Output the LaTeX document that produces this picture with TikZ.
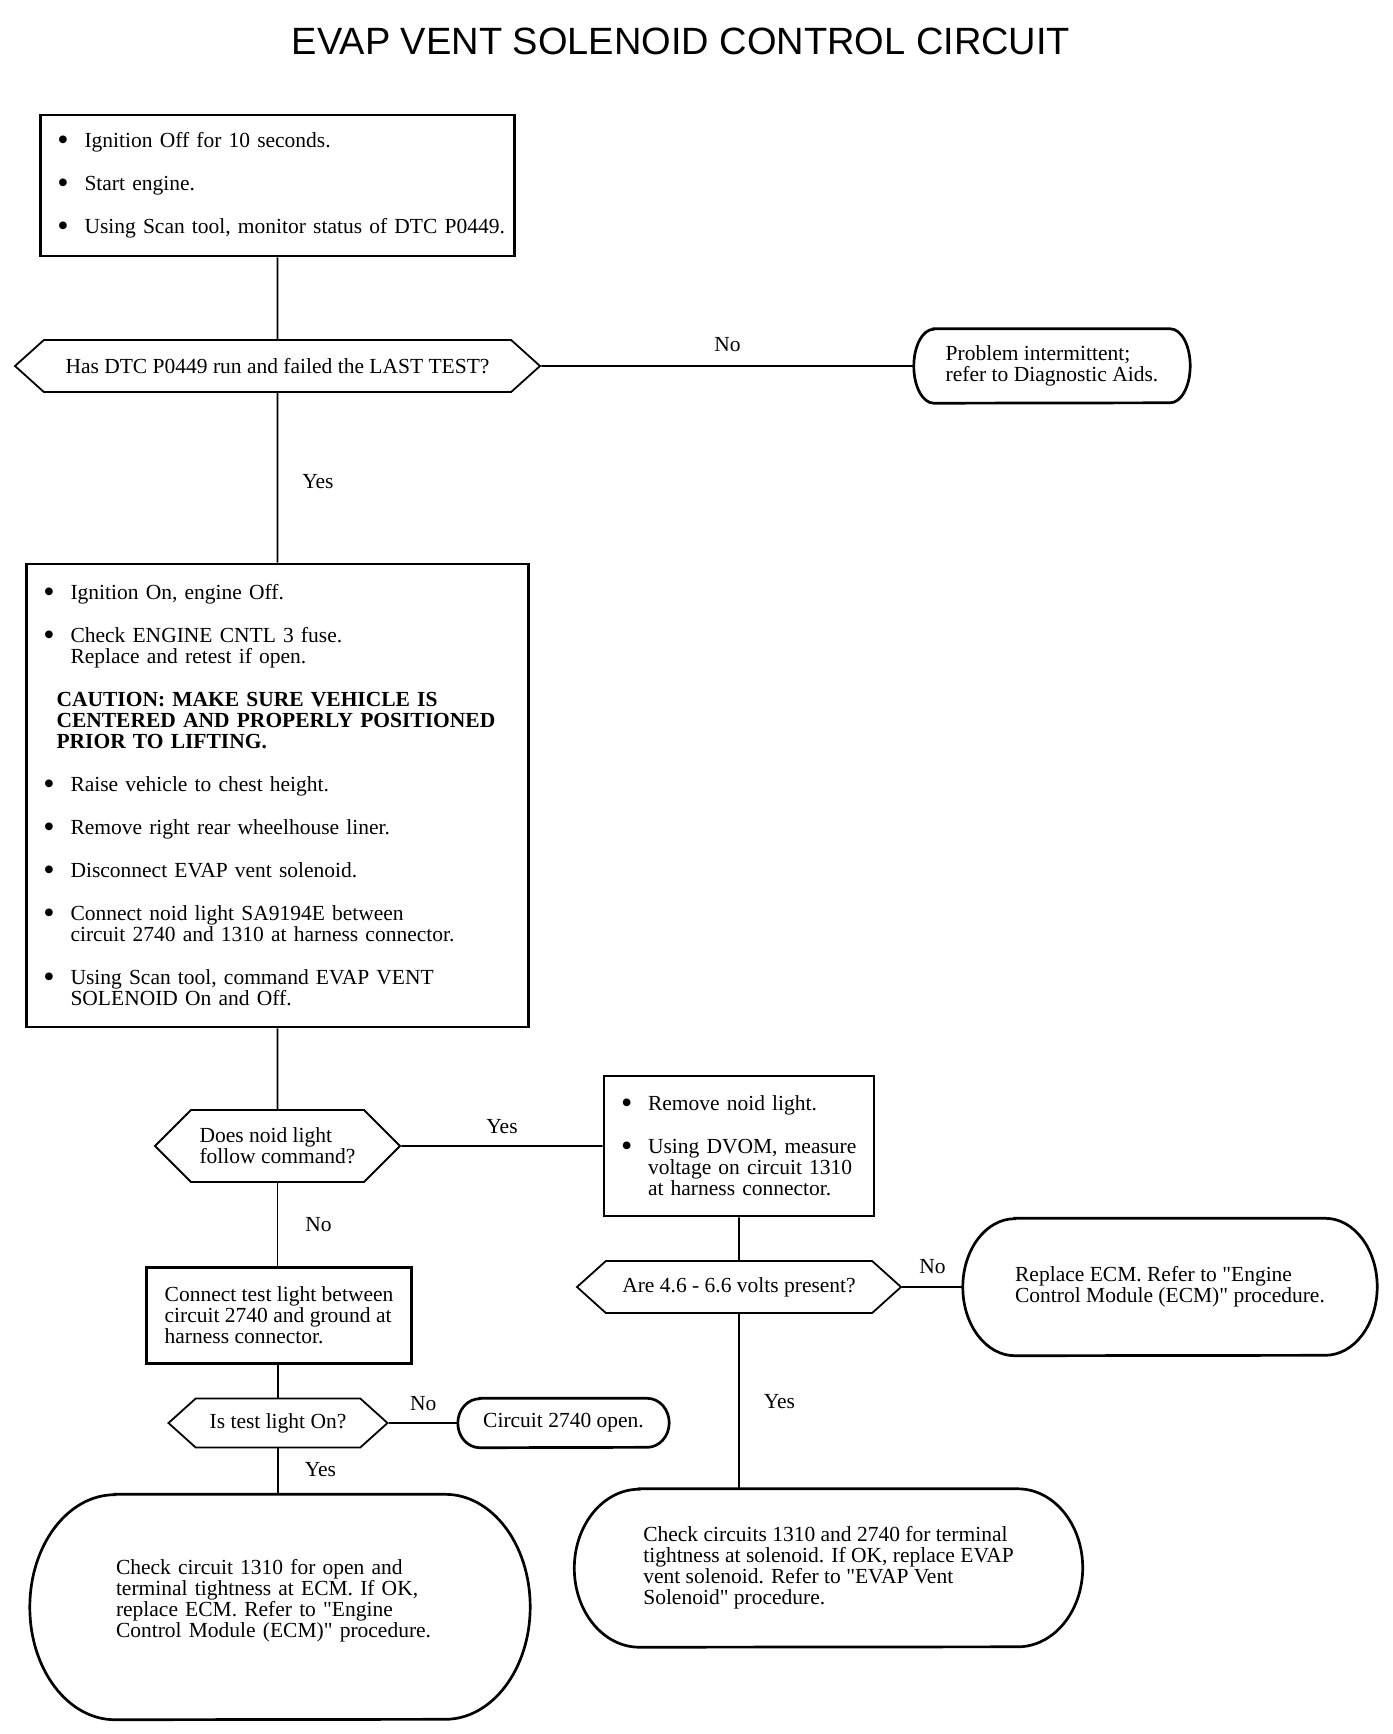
\documentclass[tikz,border=0pt]{standalone}
\usepackage{graphicx}
\usepackage{fontspec}
\setmainfont{Liberation Serif}[Ligatures=TeXOff]
\newfontfamily\headfont{Liberation Sans}
\usetikzlibrary{shapes.symbols}
\hyphenpenalty=10000
\newcommand{\bitem}[1]{\hangindent=44pt\hangafter=1\noindent\makebox[44pt][l]{\hspace{17pt}\raisebox{-2.5pt}{\scalebox{1.5}{\textbullet}}}#1\par}
\newcommand{\capsule}[3]{\draw[capline] ([xshift=#2]#1.north west) -- ([xshift=-#2]#1.north east)
	arc[start angle=90,end angle=-90,x radius=#2,y radius=#3] -- ([xshift=#2]#1.south west)
	arc[start angle=270,end angle=90,x radius=#2,y radius=#3] -- cycle;}

\begin{document}
\begin{tikzpicture}[x=1pt,y=-1pt,
	txt/.style={font=\fontsize{21.5}{21}\selectfont\setlength{\parskip}{22pt}},
	actbox/.style={txt,draw,line width=2.6pt,inner sep=0pt,align=left},
	ask/.style={txt,draw,line width=1.8pt,signal,signal to=west and east,signal pointer angle=84,inner sep=0pt,align=left},
	endbox/.style={txt,inner sep=0pt,align=left},
	capline/.style={line width=2.7pt},
	wire/.style={line width=1.6pt},
	lbl/.style={txt,inner sep=0pt}]
	\useasboundingbox[fill=white] (0,0) rectangle (1392,1734);
	\node[font=\headfont\fontsize{38}{38}\selectfont] (title) at (681,41.5) {EVAP VENT SOLENOID CONTROL CIRCUIT};

	\node[actbox,text width=474pt,minimum height=141pt] (ign) at (277.5,185.5)
		{\bitem{Ignition Off for 10 seconds.}\bitem{Start engine.}\bitem{Using Scan tool, monitor status of DTC P0449.}};
	\node[ask,minimum width=525pt,minimum height=52pt] (ran) at (277.5,366) {Has DTC P0449 run and failed the LAST TEST?};
	\node[endbox,minimum width=276pt,minimum height=74pt] (intm) at (1052,366)
		{Problem intermittent;\\refer to Diagnostic Aids.};
	\capsule{intm}{20pt}{37pt}
	\node[actbox,text width=502pt,minimum height=463pt] (fuse) at (277.5,795.5)
		{\bitem{Ignition On, engine Off.}
		\bitem{Check ENGINE CNTL 3 fuse.\newline Replace and retest if open.}
		{\leftskip=30pt\noindent\textbf{CAUTION: MAKE SURE VEHICLE IS\newline CENTERED AND PROPERLY POSITIONED\newline PRIOR TO LIFTING.}\par}
		\bitem{Raise vehicle to chest height.}
		\bitem{Remove right rear wheelhouse liner.}
		\bitem{Disconnect EVAP vent solenoid.}
		\bitem{Connect noid light SA9194E between\newline circuit 2740 and 1310 at harness connector.}
		\bitem{Using Scan tool, command EVAP VENT\newline SOLENOID On and Off.}};
	\node[ask,signal pointer angle=90,minimum width=245pt,minimum height=72pt] (noid) at (277.5,1146) {Does noid light\\follow command?};
	\node[actbox,text width=270pt,minimum height=140pt] (dvom) at (739,1146)
		{\bitem{Remove noid light.}\bitem{Using DVOM, measure\newline voltage on circuit 1310\newline at harness connector.}};
	\node[actbox,inner xsep=15pt,minimum width=265pt,minimum height=96pt] (tlight) at (279,1315.5)
		{Connect test light between\\circuit 2740 and ground at\\harness connector.};
	\node[ask,minimum width=324pt,minimum height=52pt] (volts) at (739,1287) {Are 4.6 - 6.6 volts present?};
	\node[endbox,minimum width=414pt,minimum height=137pt] (ecm) at (1170,1287)
		{Replace ECM. Refer to "Engine\\Control Module (ECM)" procedure.};
	\capsule{ecm}{52pt}{68.5pt}
	\node[ask,minimum width=219pt,minimum height=49pt] (ison) at (278,1423) {Is test light On?};
	\node[endbox,minimum width=211pt,minimum height=49pt] (open) at (563.5,1423) {Circuit 2740 open.};
	\capsule{open}{22pt}{24.5pt}
	\node[endbox,inner xsep=86pt,text width=328pt,minimum height=225pt] (chkecm) at (280,1607)
		{Check circuit 1310 for open and\\terminal tightness at ECM. If OK,\\replace ECM. Refer to "Engine\\Control Module (ECM)" procedure.\par\kern13pt};
	\capsule{chkecm}{85pt}{112.5pt}
	\node[endbox,minimum width=508pt,minimum height=158pt] (chksol) at (828.5,1568)
		{Check circuits 1310 and 2740 for terminal\\tightness at solenoid. If OK, replace EVAP\\vent solenoid. Refer to "EVAP Vent\\Solenoid" procedure.};
	\capsule{chksol}{65pt}{79pt}

	\draw[wire] (ign) -- (ran);
	\draw[wire] (ran) -- node[lbl,above=13pt] {No} (intm);
	\draw[wire] (ran) -- node[lbl,pos=0.52,right=24pt] {Yes} (fuse);
	\draw[wire] (fuse) -- (noid);
	\draw[wire] (noid) -- node[lbl,above=12pt] {Yes} (dvom);
	\draw[wire] (noid.south) -- node[lbl,right=27pt] {No} (noid.south |- tlight.north);
	\draw[wire] (dvom) -- (volts);
	\draw[wire] (volts) -- node[lbl,above=13pt] {No} (ecm);
	\draw[wire] (volts.south) -- node[lbl,right=24pt] {Yes} (volts.south |- chksol.north);
	\draw[wire] (tlight.south -| ison.north) -- (ison.north);
	\draw[wire] (ison) -- node[lbl,above=12pt] {No} (open);
	\draw[wire] (ison.south) -- node[lbl,pos=0.46,right=26pt] {Yes} (ison.south |- chkecm.north);
\end{tikzpicture}
\end{document}
